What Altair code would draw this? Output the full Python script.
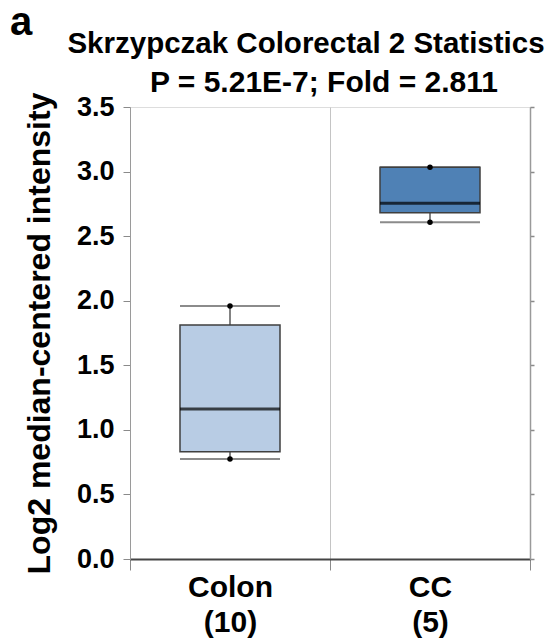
import altair as alt
import pandas as pd

# ---- data ----
categories = ["Colon", "CC"]
counts = ["(10)", "(5)"]
whisker_low = [0.774, 2.607]
q1 = [0.831, 2.682]
median = [1.162, 2.754]
q3 = [1.812, 3.033]
whisker_high = [1.959, 3.033]
box_fills = ["#b8cce4", "#4f81b5"]
y_ticks = [0.0, 0.5, 1.0, 1.5, 2.0, 2.5, 3.0, 3.5]
title_lines = ["Skrzypczak Colorectal 2 Statistics", "P = 5.21E-7; Fold = 2.811"]
y_title = "Log2 median-centered intensity"
panel_letter = "a"

labels = [f"{c}|{n}" for c, n in zip(categories, counts)]
df = pd.DataFrame({
    "label": labels,
    "lo": whisker_low,
    "q1": q1,
    "med": median,
    "q3": q3,
    "hi": whisker_high,
})
pts = pd.DataFrame({
    "label": labels + labels,
    "v": whisker_low + whisker_high,
})

FONT = "Liberation Sans"
W, H = 400, 452

xscale = alt.Scale(domain=labels, paddingInner=0, paddingOuter=0)
yscale = alt.Scale(domain=[0, 3.5], nice=False, zero=True)

x_axis = alt.Axis(
    title=None, labelExpr="split(datum.label, '|')", labelAngle=0,
    labelFont=FONT, labelFontWeight="bold", labelFontSize=30, labelColor="black",
    labelLineHeight=35, labelPadding=2, labelBaseline="top",
    tickBand="extent", tickSize=11, tickColor="#8a8a8a", tickWidth=1,
    domainColor="#444444", domainWidth=2,
    grid=True, gridColor="#c4c4c4", gridWidth=1,
)
x_main = alt.X("label:N", scale=xscale, axis=x_axis, sort=labels)

y_left = alt.Axis(
    title=y_title, values=y_ticks, format=".1f",
    labelFont=FONT, labelFontWeight="bold", labelFontSize=27, labelColor="black",
    labelPadding=9, tickSize=7, tickColor="#8a8a8a", domainColor="#9a9a9a",
    titleFont=FONT, titleFontWeight="bold", titleFontSize=32, titleColor="black",
    titlePadding=20, grid=False,
)
y_right = alt.Axis(
    orient="right", title=None, values=y_ticks, labels=False,
    tickSize=4, tickColor="#8a8a8a", tickWidth=1.5, domainColor="#9a9a9a", domainWidth=1.5, grid=False,
)

base = alt.Chart(df)

whisk = base.mark_rule(color="#5a5a5a", strokeWidth=1.5).encode(
    x=x_main,
    y=alt.Y("lo:Q", scale=yscale, axis=y_right),
    y2="hi:Q",
)
cap_lo = base.mark_tick(color="#5a5a5a", size=100, thickness=2).encode(
    x=x_main, y=alt.Y("lo:Q", scale=yscale, axis=None))
cap_hi = base.mark_tick(color="#5a5a5a", size=100, thickness=2).encode(
    x=x_main, y=alt.Y("hi:Q", scale=yscale, axis=None))
box = base.mark_bar(width=100, stroke="#3f3f3f", strokeWidth=1.5, opacity=1).encode(
    x=x_main,
    y=alt.Y("q1:Q", scale=yscale, axis=y_left),
    y2="q3:Q",
    color=alt.Color("label:N", scale=alt.Scale(domain=labels, range=box_fills), legend=None),
)
med = base.mark_tick(color="black", size=100, thickness=3).encode(
    x=x_main, y=alt.Y("med:Q", scale=yscale, axis=None))
dots = alt.Chart(pts).mark_circle(color="black", size=30, opacity=1).encode(
    x=x_main, y=alt.Y("v:Q", scale=yscale, axis=None))

ann = alt.Chart(pd.DataFrame({"t": [panel_letter]}))
letter = ann.mark_text(
    font=FONT, fontWeight="bold", fontSize=40, align="left", baseline="alphabetic", color="black"
).encode(x=alt.value(-120), y=alt.value(-72), text=alt.value(panel_letter))
title1 = ann.mark_text(
    font=FONT, fontWeight="bold", fontSize=29.5, align="center", baseline="alphabetic", color="black"
).encode(x=alt.value(176), y=alt.value(-54), text=alt.value(title_lines[0]))
title2 = ann.mark_text(
    font=FONT, fontWeight="bold", fontSize=30, align="center", baseline="alphabetic", color="black"
).encode(x=alt.value(194), y=alt.value(-15), text=alt.value(title_lines[1]))

chart = alt.layer(whisk, cap_lo, cap_hi, box, med, dots, letter, title1, title2).resolve_axis(
    y="independent"
).properties(
    width=W, height=H,
    autosize=alt.AutoSizeParams(type="none"),
    padding={"left": 130, "top": 107, "right": 20, "bottom": 84},
).configure_view(stroke="#9a9a9a", strokeWidth=1.5).configure(background="white")

chart.save("out.html", embed_options={"renderer": "svg", "actions": False})
